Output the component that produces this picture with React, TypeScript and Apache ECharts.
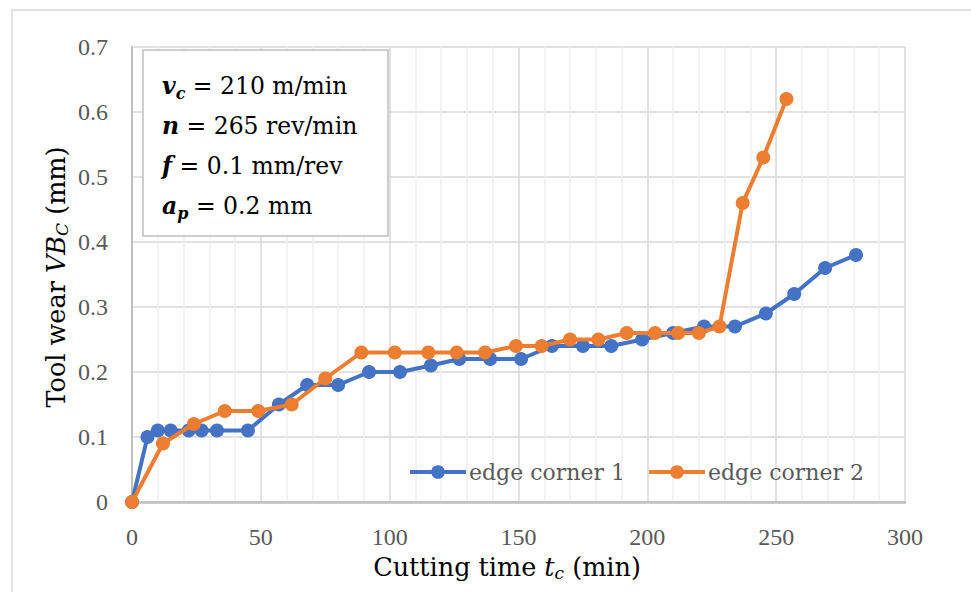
import React, { useEffect, useRef } from "react";
import * as echarts from "echarts";

const corner1Time = [0, 6, 10, 15, 22, 27, 33, 45, 57, 68, 80, 92, 104, 116, 127, 139, 151, 163, 175, 186, 198, 210, 222, 234, 246, 257, 269, 281];
const corner1Wear = [0, 0.1, 0.11, 0.11, 0.11, 0.11, 0.11, 0.11, 0.15, 0.18, 0.18, 0.2, 0.2, 0.21, 0.22, 0.22, 0.22, 0.24, 0.24, 0.24, 0.25, 0.26, 0.27, 0.27, 0.29, 0.32, 0.36, 0.38];
const corner2Time = [0, 12, 24, 36, 49, 62, 75, 89, 102, 115, 126, 137, 149, 159, 170, 181, 192, 203, 212, 220, 228, 237, 245, 254];
const corner2Wear = [0, 0.09, 0.12, 0.14, 0.14, 0.15, 0.19, 0.23, 0.23, 0.23, 0.23, 0.23, 0.24, 0.24, 0.25, 0.25, 0.26, 0.26, 0.26, 0.26, 0.27, 0.46, 0.53, 0.62];
const seriesNames = ["edge corner 1", "edge corner 2"];
const xTicks = { min: 0, max: 300, interval: 50 };
const yTicks = { min: 0, max: 0.7, interval: 0.1 };

const FONT = "DejaVu Serif";
const TICKFONT = "Liberation Serif";
const TXT = "#595959";

export default function App() {
  const ref = useRef<HTMLDivElement>(null);
  useEffect(() => {
    if (!ref.current) return;
    const chart = echarts.init(ref.current, undefined, { renderer: "svg" });
    const pair = (xs: number[], ys: number[]) => xs.map((x, i) => [x, ys[i]]);
    const richBase = { fontFamily: FONT, fontSize: 23.5, color: "#000", lineHeight: 40 };
    const richParam = {
      t: { ...richBase },
      v: { ...richBase, fontStyle: "italic", fontWeight: "bold" },
      s: { ...richBase, fontSize: 16, fontStyle: "italic", fontWeight: "bold", padding: [14, 0, 0, 0] },
    };
    const titleRich = {
      t: { fontFamily: FONT, fontSize: 25.5, color: TXT, lineHeight: 32 },
      i: { fontFamily: FONT, fontSize: 25.5, color: TXT, fontStyle: "italic", lineHeight: 32 },
      s: { fontFamily: FONT, fontSize: 17, color: TXT, fontStyle: "italic", lineHeight: 32, padding: [12, 0, 0, 0] },
    };
    chart.setOption({
      animation: false,
      grid: { left: 132, top: 47, width: 773, height: 455, containLabel: false },
      xAxis: {
        type: "value",
        min: xTicks.min,
        max: xTicks.max,
        interval: xTicks.interval,
        axisLine: { show: true, lineStyle: { color: "#bfbfbf", width: 2.5 } },
        axisTick: { show: false },
        axisLabel: { fontFamily: TICKFONT, fontSize: 24, color: TXT, margin: 23 },
        splitLine: { show: true, lineStyle: { color: "#d9d9d9", width: 1.5 } },
        minorTick: { show: false, splitNumber: 5 },
        minorSplitLine: { show: true, lineStyle: { color: "#efefef", width: 1.5 } },
      },
      yAxis: {
        type: "value",
        min: yTicks.min,
        max: yTicks.max,
        interval: yTicks.interval,
        axisLine: { show: true, lineStyle: { color: "#bfbfbf", width: 2 } },
        axisTick: { show: false },
        axisLabel: { fontFamily: TICKFONT, fontSize: 24, color: TXT, margin: 24, formatter: (v: number) => String(Math.round(v * 10) / 10) },
        splitLine: { show: true, lineStyle: { color: "#d9d9d9", width: 1.5 } },
      },
      legend: {
        left: 408,
        top: 461,
        padding: 0,
        itemWidth: 56,
        itemHeight: 17,
        itemGap: 22,
        lineStyle: { width: 4 },
        textStyle: { fontFamily: FONT, fontSize: 22, color: TXT, padding: [0, 0, 0, -2] },
        data: seriesNames,
      },
      series: [
        {
          name: seriesNames[0],
          type: "line",
          data: pair(corner1Time, corner1Wear),
          symbol: "circle",
          symbolSize: 14,
          lineStyle: { color: "#4472C4", width: 4 },
          itemStyle: { color: "#4472C4" },
          z: 3,
        },
        {
          name: seriesNames[1],
          type: "line",
          data: pair(corner2Time, corner2Wear),
          symbol: "circle",
          symbolSize: 14,
          lineStyle: { color: "#ED7D31", width: 4 },
          itemStyle: { color: "#ED7D31" },
          z: 4,
        },
      ],
      graphic: [
        {
          type: "rect",
          silent: true,
          shape: { x: 12, y: 10, width: 1000, height: 700 },
          style: { fill: "none", stroke: "#d9d9d9", lineWidth: 1.5 },
          z: -10,
        },
        {
          type: "rect",
          shape: { x: 143, y: 50, width: 245, height: 186 },
          style: { fill: "#fff", stroke: "#bfbfbf", lineWidth: 1.5 },
          z: 10,
        },
        {
          type: "text",
          x: 162,
          y: 66,
          z: 11,
          style: {
            text: [
              "{v|v}{s|c}{t| = 210 m/min}",
              "{v|n}{t| = 265 rev/min}",
              "{v|f}{t| = 0.1 mm/rev}",
              "{v|a}{s|p}{t| = 0.2 mm}",
            ].join("\n"),
            rich: richParam,
            fontFamily: FONT,
            fontSize: 23.5,
          },
        },
        {
          type: "text",
          x: 56,
          y: 277,
          rotation: Math.PI / 2,
          z: 11,
          style: {
            text: "{t|Tool wear }{i|VB}{s|C}{t| (mm)}",
            align: "center",
            verticalAlign: "middle",
            rich: titleRich,
          },
        },
        {
          type: "text",
          x: 507,
          y: 567,
          z: 11,
          style: {
            text: "{t|Cutting time }{i|t}{s|c}{t| (min)}",
            align: "center",
            verticalAlign: "middle",
            rich: titleRich,
          },
        },
      ],
    });
    return () => chart.dispose();
  }, []);
  return <div ref={ref} style={{ position: "fixed", left: 0, top: 0, width: 971, height: 592, background: "#fff" }} />;
}
